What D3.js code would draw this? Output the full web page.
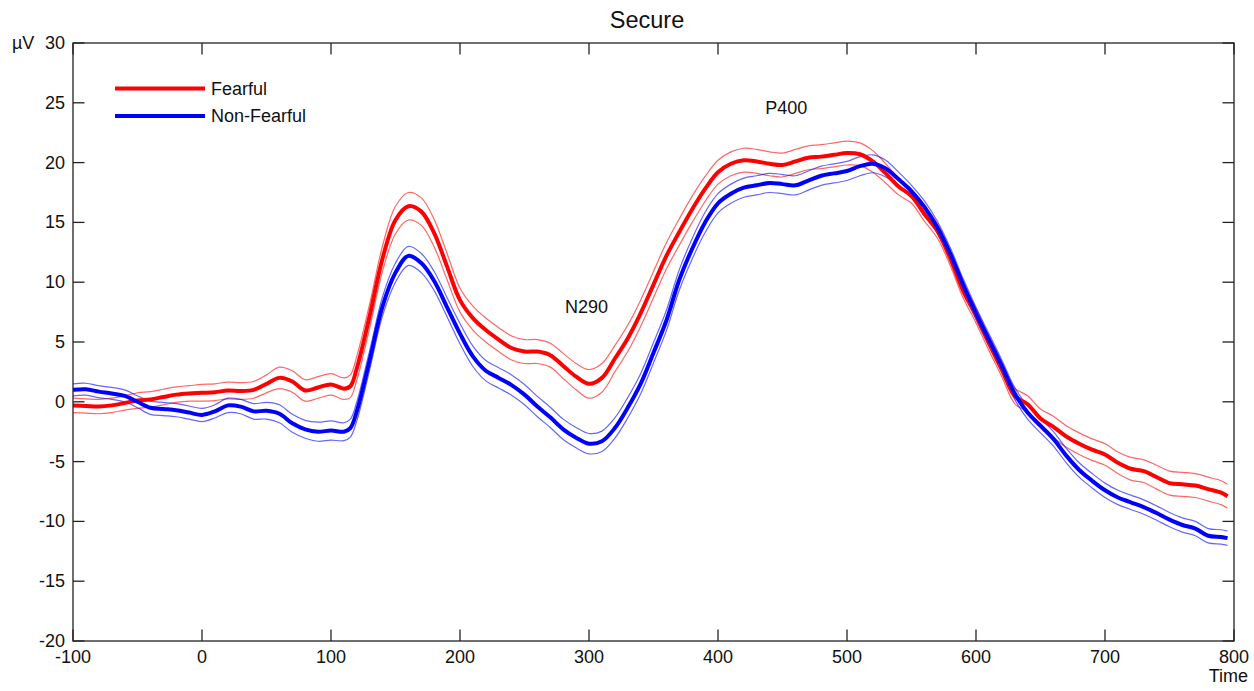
<!DOCTYPE html>
<html>
<head>
<meta charset="utf-8">
<script src="https://cdn.jsdelivr.net/npm/d3@7"></script>
<style>
  html, body { margin: 0; padding: 0; background: #fff; }
  svg { display: block; font-family: "Liberation Sans", Arial, sans-serif; }
</style>
</head>
<body>
<svg id="chart" width="1254" height="691"></svg>
<script>
// ---- data ----
const times = [
  -100,-90,-80,-70,-60,-50,-40,-30,-20,-10,
  0,10,20,30,40,50,60,70,80,90,
  100,110,115,
  120,130,140,150,160,170,180,190,200,210,
  220,230,240,250,260,270,280,290,300,310,
  320,330,340,350,360,370,380,390,400,410,
  420,430,440,450,460,470,480,490,500,510,
  520,530,540,550,560,570,580,590,600,610,
  620,630,640,650,660,670,680,690,700,710,
  720,730,740,750,760,770,780,790,795];

const fearfulMean = [
  -0.3,-0.35,-0.4,-0.3,-0.1,0.1,0.2,0.4,0.6,0.7,
  0.75,0.8,0.95,0.9,1.0,1.5,2.0,1.7,0.95,1.2,
  1.45,1.1,1.3,
  2.8,7.2,12.0,15.2,16.35,15.9,14.1,11.3,8.5,7.0,
  6.0,5.2,4.5,4.2,4.2,3.9,3.0,2.1,1.5,2.0,
  3.6,5.3,7.4,9.8,12.2,14.2,16.1,17.8,19.2,19.9,
  20.2,20.1,19.9,19.8,20.1,20.4,20.5,20.65,20.8,20.7,
  20.1,19.1,18.0,17.2,15.7,14.3,12.0,9.3,7.2,4.9,
  2.7,0.5,-0.2,-1.4,-2.1,-2.9,-3.5,-4.0,-4.4,-5.1,
  -5.6,-5.8,-6.3,-6.8,-6.9,-7.0,-7.3,-7.6,-7.9];

const fearfulSE = [
  0.6,0.6,0.6,0.6,0.6,0.65,0.65,0.65,0.65,0.65,
  0.7,0.7,0.7,0.7,0.7,0.75,0.9,0.9,0.9,0.9,
  0.9,0.9,0.95,
  1.0,1.0,1.05,1.15,1.15,1.15,1.15,1.1,1.0,1.0,
  1.0,1.0,1.0,1.0,1.0,1.0,1.05,1.1,1.2,1.2,
  1.1,1.1,1.1,1.1,1.1,1.1,1.1,1.05,1.0,1.0,
  1.0,1.0,1.0,1.0,1.0,1.0,1.0,1.0,1.0,0.95,
  0.9,0.8,0.7,0.6,0.6,0.6,0.6,0.6,0.6,0.6,
  0.6,0.65,0.7,0.8,0.9,0.9,0.9,0.9,0.9,0.9,
  0.95,0.95,1.0,1.0,1.0,1.0,1.0,1.0,1.0];

const nonFearfulMean = [
  1.0,1.05,0.85,0.7,0.5,0.0,-0.5,-0.6,-0.7,-0.9,
  -1.1,-0.8,-0.3,-0.4,-0.8,-0.75,-1.0,-1.8,-2.3,-2.5,
  -2.4,-2.5,-2.2,
  -0.8,3.5,8.0,10.8,12.2,11.6,10.1,7.9,5.7,3.8,
  2.6,2.0,1.4,0.6,-0.4,-1.3,-2.3,-3.0,-3.5,-3.3,
  -2.2,-0.5,1.5,4.1,6.8,10.2,12.8,15.0,16.6,17.4,
  17.9,18.1,18.3,18.2,18.1,18.5,18.9,19.1,19.3,19.7,
  19.9,19.5,18.6,17.6,16.3,14.6,12.4,9.8,7.4,5.2,
  3.0,0.7,-0.9,-2.0,-3.1,-4.5,-5.7,-6.6,-7.4,-8.0,
  -8.4,-8.8,-9.3,-9.85,-10.3,-10.6,-11.2,-11.3,-11.4];

const nonFearfulSE = [
  0.5,0.5,0.5,0.5,0.5,0.5,0.55,0.55,0.55,0.55,
  0.55,0.55,0.6,0.6,0.65,0.7,0.75,0.75,0.75,0.8,
  0.8,0.75,0.75,
  0.8,0.8,0.8,0.8,0.8,0.8,0.8,0.8,0.85,0.85,
  0.85,0.85,0.85,0.85,0.85,0.85,0.85,0.85,0.85,0.85,
  0.85,0.85,0.85,0.85,0.85,0.85,0.85,0.85,0.8,0.8,
  0.8,0.8,0.8,0.8,0.8,0.8,0.8,0.8,0.8,0.8,
  0.75,0.7,0.6,0.5,0.5,0.5,0.5,0.5,0.5,0.5,
  0.5,0.5,0.55,0.6,0.6,0.6,0.6,0.6,0.6,0.6,
  0.6,0.6,0.6,0.6,0.6,0.6,0.6,0.6,0.6];

const xTicks = [-100,0,100,200,300,400,500,600,700,800];
const yTicks = [-20,-15,-10,-5,0,5,10,15,20,25,30];
const seriesNames = ["Fearful","Non-Fearful"];
const seriesColors = ["#ff0000","#0000ff"];
const annotations = [{label:"N290", t:298, v:7.4}, {label:"P400", t:453, v:24.1}];

// ---- layout ----
const svg = d3.select("#chart");
const mLeft = 73, mRight = 1234, mTop = 43, mBottom = 641;
const x = d3.scaleLinear().domain([-100, 800]).range([mLeft, mRight]);
const y = d3.scaleLinear().domain([-20, 30]).range([mBottom, mTop]);
const tickLen = 11.5;
const textColor = "#111";
const axisColor = "#222";

svg.append("defs").append("clipPath").attr("id","clip")
  .append("rect").attr("x", mLeft).attr("y", mTop).attr("width", mRight-mLeft).attr("height", mBottom-mTop);

const series = [
  {mean: fearfulMean, se: fearfulSE, color: seriesColors[0]},
  {mean: nonFearfulMean, se: nonFearfulSE, color: seriesColors[1]}
];

const line = d3.line().x(d => x(d[0])).y(d => y(d[1])).curve(d3.curveCatmullRom.alpha(0.5));
const plot = svg.append("g").attr("clip-path","url(#clip)");

series.forEach(s => {
  const n = Math.min(times.length, s.mean.length);
  const seAt = i => s.se[Math.min(i, s.se.length-1)];
  const up = d3.range(n).map(i => [times[i], s.mean[i] + seAt(i)]);
  const lo = d3.range(n).map(i => [times[i], s.mean[i] - seAt(i)]);
  [up, lo].forEach(arr => {
    plot.append("path").attr("d", line(arr)).attr("fill","none")
      .attr("stroke", s.color).attr("stroke-opacity", 0.6).attr("stroke-width", 1.2);
  });
});
series.forEach(s => {
  const n = Math.min(times.length, s.mean.length);
  const m = d3.range(n).map(i => [times[i], s.mean[i]]);
  plot.append("path").attr("d", line(m)).attr("fill","none")
    .attr("stroke", s.color).attr("stroke-width", 4).attr("stroke-linejoin","round");
});

// axes box
svg.append("rect").attr("x", mLeft).attr("y", mTop).attr("width", mRight-mLeft).attr("height", mBottom-mTop)
  .attr("fill","none").attr("stroke", axisColor).attr("stroke-width", 1.3);

const gx = svg.append("g");
xTicks.forEach(t => {
  const px = x(t);
  gx.append("line").attr("x1",px).attr("x2",px).attr("y1",mBottom).attr("y2",mBottom-tickLen).attr("stroke",axisColor).attr("stroke-width",1.3);
  gx.append("line").attr("x1",px).attr("x2",px).attr("y1",mTop).attr("y2",mTop+tickLen).attr("stroke",axisColor).attr("stroke-width",1.3);
  gx.append("text").attr("x",px).attr("y",663).attr("text-anchor","middle")
    .attr("font-size",18).attr("fill",textColor).text(t);
});
const gy = svg.append("g");
yTicks.forEach(v => {
  const py = y(v);
  gy.append("line").attr("x1",mLeft).attr("x2",mLeft+tickLen).attr("y1",py).attr("y2",py).attr("stroke",axisColor).attr("stroke-width",1.3);
  gy.append("line").attr("x1",mRight).attr("x2",mRight-tickLen).attr("y1",py).attr("y2",py).attr("stroke",axisColor).attr("stroke-width",1.3);
  gy.append("text").attr("x",65).attr("y",py).attr("dy","0.33em").attr("text-anchor","end")
    .attr("font-size",18).attr("fill",textColor).text(v);
});

svg.append("text").attr("x",12).attr("y",49).attr("font-size",18).attr("fill",textColor).text("µV");
svg.append("text").attr("x",1248).attr("y",682).attr("text-anchor","end").attr("font-size",18).attr("fill",textColor).text("Time");
svg.append("text").attr("x",647).attr("y",28).attr("text-anchor","middle").attr("font-size",23.5).attr("fill",textColor).text("Secure");

annotations.forEach(a => {
  svg.append("text").attr("x", x(a.t)).attr("y", y(a.v)).attr("text-anchor","middle")
    .attr("font-size",18).attr("fill",textColor).text(a.label);
});

const legendY = [88.5, 116];
seriesNames.forEach((n,i) => {
  svg.append("line").attr("x1",115).attr("x2",205).attr("y1",legendY[i]).attr("y2",legendY[i])
    .attr("stroke",seriesColors[i]).attr("stroke-width",4);
  svg.append("text").attr("x",211).attr("y",legendY[i]).attr("dy","0.35em")
    .attr("font-size",18).attr("fill",textColor).text(n);
});
</script>
</body>
</html>
